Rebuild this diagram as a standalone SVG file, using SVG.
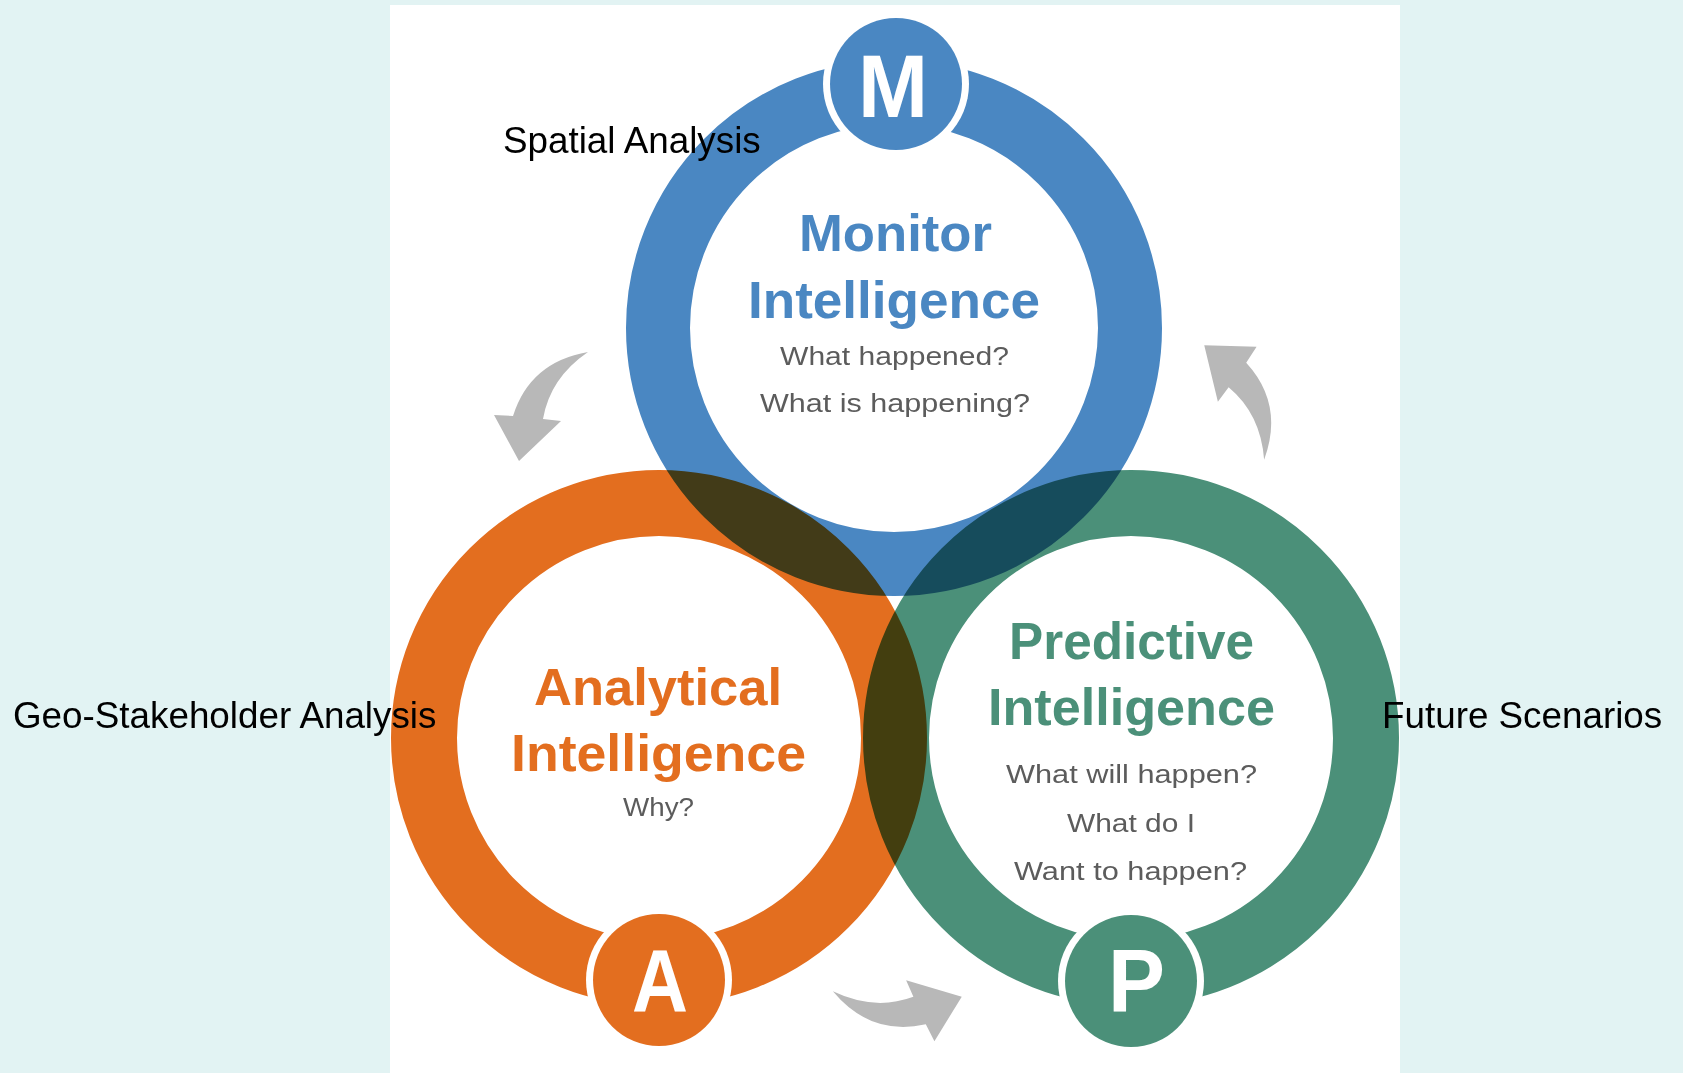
<svg xmlns="http://www.w3.org/2000/svg" width="1683" height="1073" viewBox="0 0 1683 1073">
<style>
.ring{fill:none;mix-blend-mode:multiply}
.big{font-family:"Liberation Sans",Arial,sans-serif;font-weight:bold;font-size:52px}
.small{font-family:"Liberation Sans",Arial,sans-serif;font-size:26px;fill:#5c5c5c}
.letter{font-family:"Liberation Sans",Arial,sans-serif;font-weight:bold;font-size:89px;fill:#ffffff}
.side{font-family:"Liberation Sans",Arial,sans-serif;font-size:36.8px;fill:#000000}
.gap{fill:#ffffff}
.arrow{fill:#b8b8b8}
</style>
<defs>
<path id="arr" d="M588 352 Q530 362 513 416 L494 415 L519 461 L561 421 L543 419 Q550 378 588 352 Z"/>
</defs>
<rect x="0" y="0" width="1683" height="1073" fill="#e2f3f3"/>
<rect x="390" y="5" width="1010" height="1068" fill="#ffffff"/>

<g id="connectors" class="arrow">
<use href="#arr"/>
<use href="#arr" transform="rotate(-120 895 601)"/>
<use href="#arr" transform="rotate(120 895 601)"/>
</g>

<g id="rings">
<circle class="ring" cx="894" cy="328" r="236" stroke="#4a87c2" stroke-width="64"/>
<circle class="ring" cx="659" cy="738" r="235" stroke="#e36e1f" stroke-width="66"/>
<circle class="ring" cx="1131" cy="738" r="235" stroke="#4b9079" stroke-width="66"/>
</g>

<g id="node-monitor">
<circle class="gap" cx="896" cy="84" r="73"/>
<circle cx="896" cy="84" r="66" fill="#4a87c2"/>
<text class="letter" x="858" y="117" textLength="70" lengthAdjust="spacingAndGlyphs">M</text>
<text class="big" x="799" y="251" fill="#4a87c2" textLength="193" lengthAdjust="spacingAndGlyphs">Monitor</text>
<text class="big" x="748" y="318" fill="#4a87c2" textLength="292" lengthAdjust="spacingAndGlyphs">Intelligence</text>
<text class="small" x="780" y="365" textLength="229" lengthAdjust="spacingAndGlyphs">What happened?</text>
<text class="small" x="760" y="412" textLength="270" lengthAdjust="spacingAndGlyphs">What is happening?</text>
</g>

<g id="node-analytical">
<circle class="gap" cx="659" cy="980" r="73"/>
<circle cx="659" cy="980" r="66" fill="#e36e1f"/>
<text class="letter" x="632" y="1012" textLength="56" lengthAdjust="spacingAndGlyphs">A</text>
<text class="big" x="534" y="705" fill="#e36e1f" textLength="248" lengthAdjust="spacingAndGlyphs">Analytical</text>
<text class="big" x="511" y="771" fill="#e36e1f" textLength="295" lengthAdjust="spacingAndGlyphs">Intelligence</text>
<text class="small" x="623" y="816" textLength="71" lengthAdjust="spacingAndGlyphs">Why?</text>
</g>

<g id="node-predictive">
<circle class="gap" cx="1131" cy="981" r="73"/>
<circle cx="1131" cy="981" r="66" fill="#4b9079"/>
<text class="letter" x="1108" y="1012" textLength="57" lengthAdjust="spacingAndGlyphs">P</text>
<text class="big" x="1009" y="659" fill="#4b9079" textLength="245" lengthAdjust="spacingAndGlyphs">Predictive</text>
<text class="big" x="988" y="725" fill="#4b9079" textLength="287" lengthAdjust="spacingAndGlyphs">Intelligence</text>
<text class="small" x="1006" y="783" textLength="251" lengthAdjust="spacingAndGlyphs">What will happen?</text>
<text class="small" x="1067" y="832" textLength="128" lengthAdjust="spacingAndGlyphs">What do I</text>
<text class="small" x="1014" y="880" textLength="233" lengthAdjust="spacingAndGlyphs">Want to happen?</text>
</g>

<g id="labels">
<text class="side" x="503" y="153">Spatial Analysis</text>
<text class="side" x="13" y="728">Geo-Stakeholder Analysis</text>
<text class="side" x="1382" y="728">Future Scenarios</text>
</g>
</svg>
